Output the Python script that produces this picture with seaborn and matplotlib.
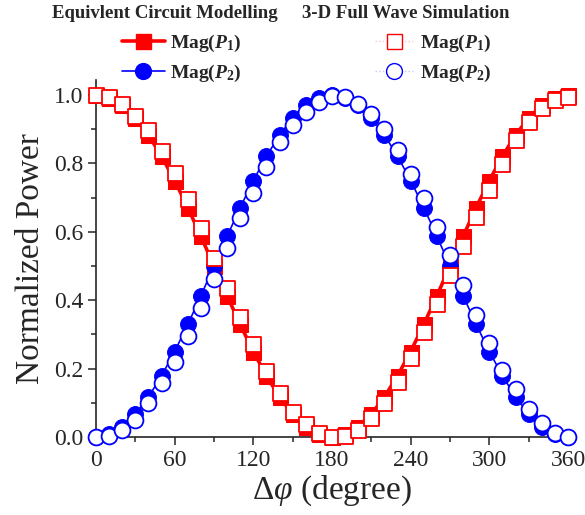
import numpy as np
import pandas as pd
import matplotlib
matplotlib.use('Agg')
import matplotlib.pyplot as plt
from matplotlib.lines import Line2D
from matplotlib.ticker import MultipleLocator
import seaborn as sns

phase = list(range(0, 361, 10))
circuit_p1 = [1.000, 0.992, 0.970, 0.933, 0.883, 0.821, 0.750, 0.671, 0.587, 0.500,
              0.413, 0.329, 0.250, 0.179, 0.117, 0.067, 0.030, 0.008, 0.000, 0.008,
              0.030, 0.067, 0.117, 0.179, 0.250, 0.329, 0.413, 0.500, 0.587, 0.671,
              0.750, 0.821, 0.883, 0.933, 0.970, 0.992, 1.000]
circuit_p2 = [0.000, 0.008, 0.030, 0.067, 0.117, 0.179, 0.250, 0.329, 0.413, 0.500,
              0.587, 0.671, 0.750, 0.821, 0.883, 0.933, 0.970, 0.992, 1.000, 0.992,
              0.970, 0.933, 0.883, 0.821, 0.750, 0.671, 0.587, 0.500, 0.413, 0.329,
              0.250, 0.179, 0.117, 0.067, 0.030, 0.008, 0.000]
sim_p1 = [1.000, 0.994, 0.974, 0.940, 0.898, 0.837, 0.772, 0.696, 0.612, 0.524,
          0.435, 0.352, 0.272, 0.194, 0.128, 0.074, 0.037, 0.011, 0.000, 0.003,
          0.020, 0.055, 0.098, 0.162, 0.230, 0.308, 0.390, 0.474, 0.558, 0.644,
          0.722, 0.797, 0.868, 0.922, 0.961, 0.985, 0.995]
sim_p2 = [0.000, 0.003, 0.020, 0.050, 0.100, 0.158, 0.220, 0.296, 0.378, 0.462,
          0.553, 0.640, 0.714, 0.790, 0.863, 0.912, 0.951, 0.980, 0.997, 0.993,
          0.974, 0.944, 0.900, 0.839, 0.770, 0.698, 0.615, 0.532, 0.444, 0.357,
          0.276, 0.197, 0.139, 0.083, 0.040, 0.013, 0.000]

df = pd.DataFrame({'phase': phase, 'c_p1': circuit_p1, 'c_p2': circuit_p2,
                   's_p1': sim_p1, 's_p2': sim_p2})

sns.set_style('ticks')
plt.rcParams['font.family'] = ['Liberation Serif', 'DejaVu Serif']
plt.rcParams['mathtext.fontset'] = 'custom'
plt.rcParams['mathtext.rm'] = 'Liberation Serif'
plt.rcParams['mathtext.it'] = 'Liberation Serif:italic'
plt.rcParams['mathtext.bf'] = 'Liberation Serif:bold'
plt.rcParams['mathtext.bfit'] = 'Liberation Serif:bold:italic'

fig = plt.figure(figsize=(5.85, 5.15), dpi=100)
ax = fig.add_axes([96 / 585, 78 / 515, 472 / 585, 357 / 515])

red = '#ff0000'
blue = '#0000ff'
ms = 10.8

sns.lineplot(data=df, x='phase', y='c_p1', ax=ax, color=red, linewidth=2.6,
             marker='s', markersize=ms, markeredgecolor=red, clip_on=False, zorder=3)
sns.lineplot(data=df, x='phase', y='c_p2', ax=ax, color=blue, linewidth=1.2,
             marker='o', markersize=ms + 0.6, markeredgecolor=blue, clip_on=False, zorder=3)
sns.scatterplot(data=df, x='phase', y='s_p1', ax=ax, marker='s', s=ms ** 2,
                facecolor='white', edgecolor=red, linewidth=1.3, clip_on=False, zorder=4)
sns.scatterplot(data=df, x='phase', y='s_p2', ax=ax, marker='o', s=(ms + 0.6) ** 2,
                facecolor='white', edgecolor=blue, linewidth=1.3, clip_on=False, zorder=4)

ax.set_xlim(0, 360)
ax.set_ylim(0, 1.044)
ax.xaxis.set_major_locator(MultipleLocator(60))
ax.xaxis.set_minor_locator(MultipleLocator(30))
ax.yaxis.set_major_locator(MultipleLocator(0.2))
ax.yaxis.set_minor_locator(MultipleLocator(0.1))
ax.yaxis.set_major_formatter(plt.FormatStrFormatter('%.1f'))
ax.tick_params(which='major', direction='out', length=6, width=1.1, labelsize=17, pad=3)
ax.tick_params(which='minor', direction='out', length=3.5, width=1.1)
for s in ['top', 'right']:
    ax.spines[s].set_visible(False)
for s in ['left', 'bottom']:
    ax.spines[s].set_linewidth(1.2)

ax.set_xlabel(r'$\Delta\varphi$ (degree)', fontsize=24, labelpad=2)
ax.set_ylabel('Normalized Power', fontsize=24, labelpad=6)

lab1 = r'Mag($\mathbfit{P}_\mathbf{1}$)'
lab2 = r'Mag($\mathbfit{P}_\mathbf{2}$)'
h_c = [Line2D([], [], color=red, lw=2.6, marker='s', markersize=ms),
       Line2D([], [], color=blue, lw=1.2, marker='o', markersize=ms + 0.6)]
h_s = [Line2D([], [], color='#ffc8c8', lw=1.0, ls=':', marker='s', markersize=ms,
              markerfacecolor='white', markeredgecolor=red),
       Line2D([], [], color='#c8c8ff', lw=1.0, ls=':', marker='o', markersize=ms + 0.6,
              markerfacecolor='white', markeredgecolor=blue)]
prop = {'weight': 'bold', 'size': 14}
leg1 = fig.legend(h_c, [lab1, lab2], loc='upper left', bbox_to_anchor=(122 / 585, 1 - 33 / 515),
                  frameon=False, prop=prop, handlelength=2.2, handletextpad=0.25,
                  borderpad=0, borderaxespad=0, labelspacing=0.45)
leg2 = fig.legend(h_s, [lab1, lab2], loc='upper left', bbox_to_anchor=(375 / 585, 1 - 33 / 515),
                  frameon=False, prop=prop, handlelength=1.95, handletextpad=0.35,
                  borderpad=0, borderaxespad=0, labelspacing=0.45)
fig.text(165 / 585, 1 - 13 / 515, 'Equivlent Circuit Modelling', ha='center', va='center',
         fontsize=13.5, fontweight='bold')
fig.text(406 / 585, 1 - 13 / 515, '3-D Full Wave Simulation', ha='center', va='center',
         fontsize=13.5, fontweight='bold')

fig.savefig('out.png', dpi=100)
